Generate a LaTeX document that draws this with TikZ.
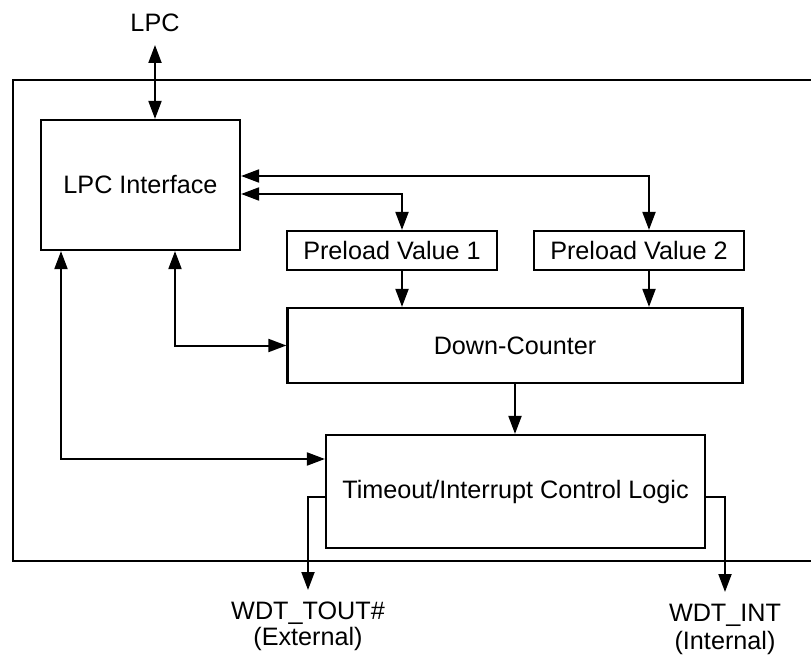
\documentclass[tikz,border=0pt]{standalone}
\usepackage{fontspec}
\setmainfont{Liberation Sans}
\usetikzlibrary{arrows.meta}
\begin{document}
\begin{tikzpicture}[x=1pt,y=-1pt,
  every node/.style={font=\fontsize{25.2}{30}\selectfont},
  blk/.style={draw,line width=2.2pt,inner sep=0pt,align=center},
  wire/.style={line width=2pt,-{Triangle[length=18pt,width=13pt]}},
  dwire/.style={line width=2pt,{Triangle[length=18pt,width=13pt]}-{Triangle[length=18pt,width=13pt]}},
  lbl/.style={inner sep=0pt,align=center}]
\useasboundingbox (0,0) rectangle (811,655);
% outer boundary (open at right edge)
\draw[line width=2.2pt] (815,80) -- (13,80) -- (13,561) -- (815,561);
% nodes
\node[lbl] (lpc) at (155,23) {LPC};
\node[blk,minimum width=199pt,minimum height=130pt] (lpcif) at (140.5,185) {LPC Interface};
\node[blk,minimum width=210pt,minimum height=39pt] (pv1) at (392,250.5) {Preload Value 1};
\node[blk,minimum width=210pt,minimum height=39pt] (pv2) at (639,250.5) {Preload Value 2};
\node[blk,minimum width=455pt,minimum height=75pt] (dc) at (515,345.5) {Down-Counter};
\node[blk,minimum width=379pt,minimum height=113pt] (to) at (515.5,491.5) {Timeout/Interrupt Control Logic};
\node[lbl] (tout) at (308,613) {WDT\_TOUT\#};
\node[lbl] (toutx) at (308,639) {(External)};
\node[lbl] (wint) at (725,615) {WDT\_INT};
\node[lbl] (wintx) at (725,643) {(Internal)};
% helper coordinates
\coordinate (lpctip) at (155,45);
\coordinate (r1) at (649,176);
\coordinate (r2) at (402,194);
\coordinate (c1) at (175,0);
\coordinate (c2) at (61,459);
\coordinate (s1) at (308,497);
\coordinate (s2) at (725,497);
\coordinate (e1) at (308,590);
\coordinate (e2) at (725,592);
% connectors
\draw[dwire] (lpctip) -- (lpcif.north -| lpctip);
\draw[dwire] (lpcif.east |- r1) -| (pv2.north -| r1);
\draw[dwire] (lpcif.east |- r2) -| (pv1.north -| r2);
\draw[wire] (pv1.south -| r2) -- (dc.north -| r2);
\draw[wire] (pv2.south -| r1) -- (dc.north -| r1);
\draw[dwire] (lpcif.south -| c1) |- (dc.west);
\draw[dwire] (lpcif.south -| c2) |- (to.west |- c2);
\draw[wire] (dc.south) -- (dc.south |- to.north);
\draw[wire] (to.west |- s1) -| (e1);
\draw[wire] (to.east |- s2) -| (e2);
\end{tikzpicture}
\end{document}
